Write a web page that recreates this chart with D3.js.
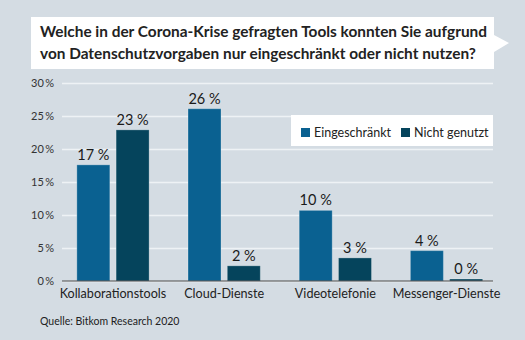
<!DOCTYPE html>
<html>
<head>
<meta charset="utf-8">
<script src="https://cdn.jsdelivr.net/npm/d3@7"></script>
<style>
  html, body { margin: 0; padding: 0; background: #d4dce3; }
  svg { display: block; font-family: Lato, "Noto Sans", sans-serif; }
</style>
</head>
<body>
<div id="chart"></div>
<script>
const categories = ["Kollaborationstools", "Cloud-Dienste", "Videotelefonie", "Messenger-Dienste"];
const seriesNames = ["Eingeschränkt", "Nicht genutzt"];
const eingeschraenkt = [17.6, 26.1, 10.7, 4.6];
const nichtGenutzt = [22.9, 2.3, 3.5, 0.3];
const labelsEingeschraenkt = ["17 %", "26 %", "10 %", "4 %"];
const labelsNichtGenutzt = ["23 %", "2 %", "3 %", "0 %"];
const yTicks = [0, 5, 10, 15, 20, 25, 30];
const colors = ["#0a6191", "#05445c"];

const width = 525, height = 340;

const svg = d3.select("#chart").append("svg")
  .attr("width", width)
  .attr("height", height);

svg.append("rect").attr("width", width).attr("height", height).attr("fill", "#d4dce3");

// title box with pointer
svg.append("path")
  .attr("d", "M31,17 H494 V35 L509,43 L494,52 V69 H31 Z")
  .attr("fill", "#fff");

const title = svg.append("text")
  .attr("x", 40)
  .attr("font-size", 15.4)
  .attr("font-weight", "bold")
  .attr("fill", "#222");
title.append("tspan").attr("x", 40).attr("y", 37).text("Welche in der Corona-Krise gefragten Tools konnten Sie aufgrund");
title.append("tspan").attr("x", 40).attr("y", 59).text("von Datenschutzvorgaben nur eingeschränkt oder nicht nutzen?");

const y = d3.scaleLinear().domain([0, 30]).range([281, 83]);

const x0 = d3.scaleBand()
  .domain(categories)
  .range([63.5, 496])
  .paddingInner(0.35)
  .paddingOuter(0.12);

const x1 = d3.scaleBand()
  .domain(seriesNames)
  .range([0, x0.bandwidth()])
  .paddingInner(0.16);

// grid
const yAxis = d3.axisLeft(y)
  .tickValues(yTicks)
  .tickSize(-(493 - 62))
  .tickPadding(8)
  .tickFormat(d => d + "\u2009%");

const gy = svg.append("g")
  .attr("transform", "translate(62,0)")
  .call(yAxis);
gy.select(".domain").remove();
gy.selectAll(".tick line").attr("stroke", "#eef2f5").attr("stroke-width", 1.3);
gy.selectAll(".tick text")
  .attr("font-family", "Lato, sans-serif")
  .attr("font-size", 11)
  .attr("fill", "#333");

// legend
svg.append("rect")
  .attr("x", 291).attr("y", 115).attr("width", 202).attr("height", 31)
  .attr("fill", "#fff");
const legendX = [301, 401];
seriesNames.forEach((name, i) => {
  svg.append("rect")
    .attr("x", legendX[i]).attr("y", 128).attr("width", 9).attr("height", 9)
    .attr("fill", colors[i]);
  svg.append("text")
    .attr("x", legendX[i] + 13).attr("y", 136.5)
    .attr("font-size", 12.5)
    .attr("fill", "#222")
    .text(name);
});

// bars
const seriesValues = [eingeschraenkt, nichtGenutzt];
const seriesLabels = [labelsEingeschraenkt, labelsNichtGenutzt];

const groups = svg.append("g").selectAll("g")
  .data(categories)
  .join("g")
  .attr("transform", d => `translate(${x0(d)},0)`);

groups.selectAll("rect")
  .data((d, ci) => seriesNames.map((s, si) => ({ s, si, v: seriesValues[si][ci] })))
  .join("rect")
  .attr("x", d => x1(d.s))
  .attr("y", d => y(d.v))
  .attr("width", x1.bandwidth())
  .attr("height", d => y(0) - y(d.v))
  .attr("fill", d => colors[d.si])
  .attr("stroke", "rgba(255,255,255,0.25)")
  .attr("stroke-width", 1);

groups.selectAll("text.val")
  .data((d, ci) => seriesNames.map((s, si) => ({ s, si, v: seriesValues[si][ci], label: seriesLabels[si][ci] })))
  .join("text")
  .attr("class", "val")
  .attr("x", d => x1(d.s) + x1.bandwidth() / 2)
  .attr("y", d => y(d.v) - 5)
  .attr("text-anchor", "middle")
  .attr("font-size", 14.5)
  .attr("fill", "#1a1a1a")
  .text(d => d.label);

// baseline
svg.append("line")
  .attr("x1", 62).attr("x2", 493)
  .attr("y1", y(0)).attr("y2", y(0))
  .attr("stroke", "#444").attr("stroke-width", 1.2);

// category labels
svg.append("g").selectAll("text")
  .data(categories)
  .join("text")
  .attr("x", d => x0(d) + x0.bandwidth() / 2)
  .attr("y", 298)
  .attr("text-anchor", "middle")
  .attr("font-size", 12.6)
  .attr("fill", "#222")
  .text(d => d);

// source
svg.append("text")
  .attr("x", 40).attr("y", 325)
  .attr("font-size", 10.5)
  .attr("fill", "#222")
  .text("Quelle: Bitkom Research 2020");
</script>
</body>
</html>
